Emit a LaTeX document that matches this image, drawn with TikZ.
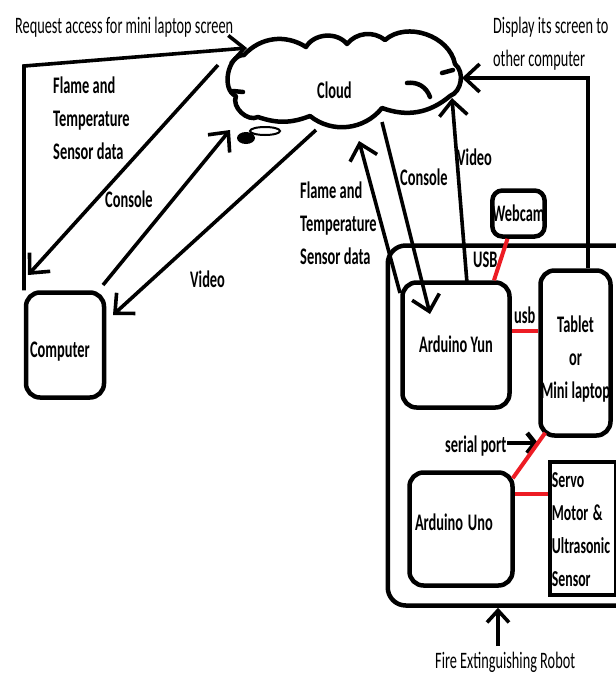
\documentclass[tikz,border=0pt]{standalone}
\usepackage{fontspec}
\setmainfont{Carlito}
\usepackage{graphicx}
\usetikzlibrary{arrows.meta,calc}
\definecolor{pred}{RGB}{237,28,36}
\newcommand\vst[1]{\scalebox{1}[1.65]{#1}}
\begin{document}
\begin{tikzpicture}[x=1pt,y=-1pt,
  box/.style={draw, line width=4.5pt, rounded corners=14pt, inner sep=0pt,
    font=\bfseries\fontsize{14.4}{20.3}\selectfont},
  bl/.style={inner sep=0pt, anchor=base west, font=\bfseries\fontsize{14.4}{20.3}\selectfont},
  rl/.style={inner sep=0pt, anchor=base west, font=\fontsize{14.3}{20.6}\selectfont},
  arr/.style={line width=3.6pt, -{Straight Barb[length=15pt,width=28pt]}},
  redl/.style={draw=pred, line width=4pt},
  cloudl/.style={line width=4.5pt, line join=round, line cap=round}]
\useasboundingbox (0,0) rectangle (616,675);
\clip (0,0) rectangle (616,675);

% ---------- cloud ----------
\draw[cloudl] (236,96) to[bend left=80] (244,55) to[bend left=40] (306,47)
  to[bend left=55] (347,44) to[bend left=45] (385,40) to[bend left=60] (455,64)
  to[bend left=60] (450,96) to[bend left=30] (382,108) to[bend left=45] (310,116)
  to[bend left=20] (258,117) to[bend left=70] cycle;
\draw[cloudl] (407,83) to[bend left=40] (430,97);
\draw[cloudl] (442,73) -- (453,70);
\draw[cloudl] (233,91) -- (243,92);
\fill (246,138) ellipse[x radius=9pt, y radius=6pt];
\draw[line width=2pt] (265,131) ellipse[x radius=15pt, y radius=4pt];
\node[bl] (cloud) at (317,98) {\vst{Cloud}};

% ---------- boxes ----------
\node[box, minimum width=78pt, minimum height=105pt, text width=70pt, align=left,
  inner xsep=4pt, text height=24pt, text depth=0pt] (comp) at (65,345) {\vst{Computer}};
\node[box, minimum width=252pt, minimum height=360pt, rounded corners=18pt] (robot) at (513.75,425.5) {};
\node[box, minimum width=52pt, minimum height=46pt, rounded corners=10pt] (web) at (518.5,213.5) {\vst{Webcam}};
\node[box, minimum width=107pt, minimum height=125pt, text height=14pt, text depth=0pt] (yun) at (456,345) {\vst{Arduino Yun}};
\node[box, minimum width=70pt, minimum height=165pt, text height=20pt, text depth=62pt] (tab) at (575.5,353)
  {\vst{\begin{tabular}[t]{@{}c@{}}Tablet\\or\\Mini laptop\end{tabular}}};
\node[box, minimum width=103pt, minimum height=113pt, text width=92pt, align=left, inner xsep=5.5pt,
  text height=10pt, text depth=8pt] (uno) at (461,529) {\vst{Arduino Uno}};
\node[draw, line width=3.5pt, inner sep=0pt, minimum width=66pt, minimum height=133pt,
  text width=62pt, inner xsep=2pt, align=left, text height=20pt, text depth=103pt,
  font=\bfseries\fontsize{13.8}{20.2}\selectfont] (servo) at (582.9,528.5)
  {\vst{\begin{tabular}[t]{@{}l@{}}Servo\\Motor \&\\Ultrasonic\\Sensor\end{tabular}}};

% ---------- labels ----------
\node[rl] (req) at (15,33) {\vst{Request access for mini laptop screen}};
\node[rl] (disp) at (493,33) {\vst{\begin{tabular}[t]{@{}l@{}}Display its screen to\\other computer\end{tabular}}};
\node[bl] (flL) at (53,93) {\vst{\begin{tabular}[t]{@{}l@{}}Flame and\\Temperature\\Sensor data\end{tabular}}};
\node[bl] (conL) at (105,207) {\vst{Console}};
\node[bl] (vidL) at (190,287) {\vst{Video}};
\node[bl] (flR) at (300,198) {\vst{\begin{tabular}[t]{@{}l@{}}Flame and\\Temperature\\Sensor data\end{tabular}}};
\node[bl] (conR) at (400,185) {\vst{Console}};
\node[bl] (vidR) at (457,165) {\vst{Video}};
\node[bl] (usbU) at (473,267) {\vst{USB}};
\node[bl] (usbl) at (514,323) {\vst{usb}};
\node[bl] (sp) at (445,452) {\vst{serial port}};
\node[rl] (fire) at (435,668) {\vst{Fire Extinguishing Robot}};

% ---------- attachment points ----------
\coordinate (cReq) at (247,48);
\coordinate (reqC) at (24,66);
\coordinate (cFL) at (218,65);
\coordinate (fLtip) at (28,275);
\coordinate (cConL) at (230,130);
\coordinate (conLs) at (103,285);
\coordinate (cVidL) at (316,130);
\coordinate (vidLtip) at (113,315);
\coordinate (cFR) at (359,141);
\coordinate (fRs) at (400,293);
\coordinate (cConR) at (382,122);
\coordinate (conRtip) at (430,314);
\coordinate (cVidR) at (452,98);
\coordinate (vidRs) at (467,283);
\coordinate (cDisp) at (462,78);
\coordinate (dispC) at (588,78);
\coordinate (spTip) at (538,443);
\coordinate (fireS) at (498,646);

% ---------- connectors ----------
\draw[arr, line join=miter] (reqC |- comp.north) -- (reqC) -- (cReq);
\draw[arr] (cFL) -- (fLtip);
\draw[arr] (conLs) -- (cConL);
\draw[arr] (cVidL) -- (vidLtip);
\draw[arr] (fRs) -- (cFR);
\draw[arr] (cConR) -- (conRtip);
\draw[arr] (vidRs) -- (cVidR);
\draw[arr, line join=miter] (tab.north -| dispC) -- (dispC) -- (cDisp);
\draw[line width=4.5pt, -{Straight Barb[length=8pt,width=20pt]}] (sp.east |- spTip) -- (spTip);
\draw[line width=3.6pt, -{Straight Barb[length=12pt,width=22pt]}] (fireS) -- (fireS |- robot.south);

% ---------- red links ----------
\draw[redl] ($(web.south)+(-11,0)$) -- ($(yun.north)+(38,0)$);
\draw[redl] ($(yun.east)+(0,-14)$) -- ($(tab.west)+(0,-22)$);
\draw[redl] ($(tab.south west)+(7,-5)$) -- ($(uno.north east)+(-2,8)$);
\draw[redl] ($(uno.east)+(0,-35)$) -- ($(servo.west)+(0,-34.5)$);
\end{tikzpicture}
\end{document}
